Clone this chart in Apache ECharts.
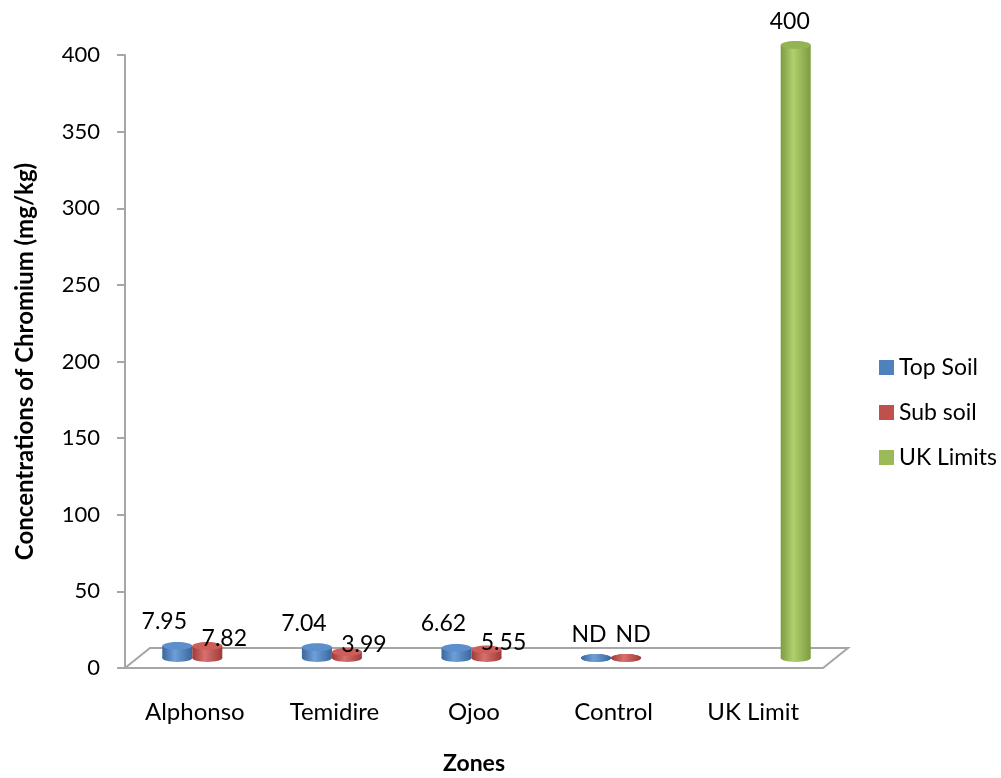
<!DOCTYPE html>
<html>
<head>
<meta charset="utf-8">
<script src="https://cdn.jsdelivr.net/npm/echarts@6/dist/echarts.min.js"></script>
<style>
html,body{margin:0;padding:0;background:#fff;}
#chart{width:1001px;height:778px;}
</style>
</head>
<body>
<div id="chart"></div>
<script>
// ---- data (0 = ND, not detected) ----
var categories = ['Alphonso', 'Temidire', 'Ojoo', 'Control', 'UK Limit'];
var topSoil = [7.95, 7.04, 6.62, 0, null];
var subSoil = [7.82, 3.99, 5.55, 0, null];
var ukLimits = [null, null, null, null, 400];
var yTicks = [0, 50, 100, 150, 200, 250, 300, 350, 400];

var FONT = 'Lato';
var seriesStyles = [
  {name: 'Top Soil', color: '#4F81BD', dark: '#3a679c', light: '#6e9fd8', top: '#5d8fcc', lx: -13, ly: -24, ndx: -7},
  {name: 'Sub soil', color: '#C0504D', dark: '#9e3b39', light: '#d8706c', top: '#cd5e5a', lx: 17, ly: -7, ndx: 7},
  {name: 'UK Limits', color: '#9BBB59', dark: '#7d9b40', light: '#b0d06e', top: '#94b352', lx: -6, ly: -23, ndx: 0}
];

function makeRender(k) {
  var st = seriesStyles[k];
  return function (params, api) {
    var idx = api.value(0);
    var v = api.value(1);
    if (v == null || isNaN(v)) return null;
    var base = api.coord([idx, 0]);
    var topP = api.coord([idx, v]);
    var catW = api.size([1, 0])[0];
    var bw = catW * 0.215;
    var cx = base[0] + (k - 1) * bw;
    var ry = bw * 0.13;
    var x0 = cx - bw / 2;
    var grad = new echarts.graphic.LinearGradient(0, 0, 1, 0, [
      {offset: 0, color: st.dark},
      {offset: 0.42, color: st.light},
      {offset: 1, color: st.dark}
    ]);
    var children = [];
    children.push({type: 'ellipse', shape: {cx: cx, cy: base[1], rx: bw / 2, ry: ry}, style: {fill: grad}});
    children.push({type: 'rect', shape: {x: x0, y: topP[1], width: bw, height: base[1] - topP[1]}, style: {fill: grad}});
    children.push({type: 'ellipse', shape: {cx: cx, cy: topP[1], rx: bw / 2, ry: ry}, style: {fill: v === 0 ? grad : st.top}});
    var txt, tx, ty;
    if (v === 0) { txt = 'ND'; tx = cx + st.ndx; ty = topP[1] - 23; }
    else { txt = String(v); tx = cx + st.lx; ty = topP[1] + st.ly; }
    children.push({type: 'text', style: {text: txt, x: tx, y: ty, align: 'center', verticalAlign: 'middle',
      fill: '#000', font: '23px ' + FONT}, z2: 10});
    return {type: 'group', children: children};
  };
}

var dataSets = [topSoil, subSoil, ukLimits];
var series = dataSets.map(function (arr, k) {
  return {
    type: 'custom',
    name: seriesStyles[k].name,
    xAxisIndex: 1, yAxisIndex: 1,
    itemStyle: {color: seriesStyles[k].color},
    renderItem: makeRender(k),
    data: arr.map(function (v, i) { return [i, v]; }),
    z: 5
  };
});

var chart = echarts.init(document.getElementById('chart'));
chart.setOption({
  backgroundColor: '#fff',
  animation: false,
  textStyle: {fontFamily: FONT},
  legend: {
    orient: 'vertical', left: 874, top: 351,
    itemWidth: 15, itemHeight: 15, itemGap: 22, icon: 'rect',
    textStyle: {fontSize: 23, color: '#000', fontFamily: FONT},
    data: seriesStyles.map(function (s) { return s.name; })
  },
  grid: [
    {left: 125, top: 55, width: 698, height: 613, outerBoundsMode: 'none', containLabel: false},
    {left: 137.5, top: 45, width: 698, height: 613, outerBoundsMode: 'none', containLabel: false}
  ],
  xAxis: [
    {type: 'category', gridIndex: 0, data: categories,
      name: 'Zones', nameLocation: 'middle', nameGap: 84,
      nameTextStyle: {fontSize: 23, fontWeight: 'bold', color: '#000', fontFamily: FONT},
      axisLine: {show: false}, axisTick: {show: false},
      axisLabel: {margin: 32, fontSize: 24, color: '#000', fontFamily: FONT}},
    {type: 'category', gridIndex: 1, data: categories, show: false}
  ],
  yAxis: [
    {type: 'value', gridIndex: 0, min: 0, max: 400, interval: 50,
      name: 'Concentrations of Chromium (mg/kg)', nameLocation: 'middle', nameGap: 88, nameRotate: 90,
      nameTextStyle: {fontSize: 24, fontWeight: 'bold', color: '#000', fontFamily: FONT},
      axisLine: {show: true, lineStyle: {color: '#a6a6a6', width: 2}},
      axisTick: {show: true, length: 8, lineStyle: {color: '#a6a6a6', width: 2}},
      axisLabel: {margin: 25, fontSize: 22, color: '#000', fontFamily: FONT,
        customValues: yTicks},
      splitLine: {show: false}},
    {type: 'value', gridIndex: 1, min: 0, max: 400, interval: 50, show: false, splitLine: {show: false}}
  ],
  graphic: [
    {type: 'polygon', z: 0,
      shape: {points: [[125, 668], [823, 668], [848, 648], [150, 648]]},
      style: {fill: '#fff', stroke: '#a6a6a6', lineWidth: 2}}
  ],
  series: series
});
</script>
</body>
</html>
